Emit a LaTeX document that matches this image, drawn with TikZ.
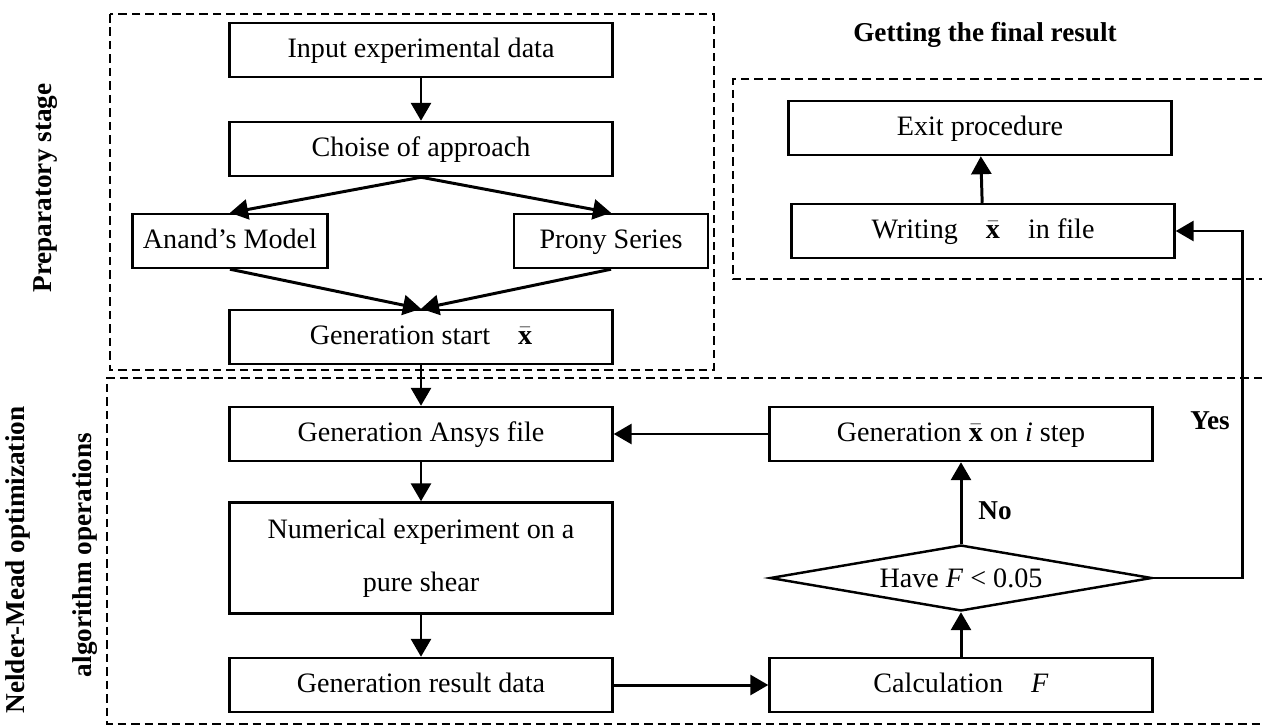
\documentclass[tikz,border=0pt]{standalone}
\usepackage{fontspec}
\setmainfont{Liberation Serif}
\usetikzlibrary{arrows.meta, positioning, shapes.geometric}

\begin{document}
\begin{tikzpicture}[
        x=0.02cm,
        y=-0.02cm,
        font=\fontsize{16}{19}\selectfont,
        procbox/.style={
            draw=black,
            line width=1.4pt,
            minimum width=7.66cm,
            minimum height=1.08cm,
            text height=1.0em,
            text depth=0.1em,
            inner sep=2pt
        },
        decisbox/.style={
            draw=black,
            line width=1.4pt,
            diamond,
            aspect=5.8,
            minimum width=7.64cm,
            minimum height=1.32cm,
            inner sep=0pt
        },
        stageframe/.style={
            draw=black,
            line width=1.1pt,
            dash pattern=on 0.17cm off 0.1cm
        },
        flowarrow/.style={
            draw=black,
            line width=1.7pt,
            -{Triangle[length=0.36cm,width=0.4cm]}
        },
        stagelabel/.style={
            font=\fontsize{15.5}{18}\selectfont\bfseries
        }
    ]

        \useasboundingbox (0,0) rectangle (1262,727);

        % Rahmen der Stufen
        \draw[stageframe]
            (110,14) rectangle (714,370);
        \draw[stageframe]
            (1262,378) --
            (107,378) --
            (107,724) --
            (1262,724);
        \draw[stageframe]
            (1262,79) --
            (733,79) --
            (733,279) --
            (1262,279);

        % Vorbereitung
        \node[procbox] (input) at (421,50)
            {Input experimental data};
        \node[procbox] (approach) at (421,149)
            {Choise of approach};
        \node[procbox, minimum width=3.9cm] (anand) at (230,241)
            {Anand's Model};
        \node[procbox, minimum width=3.88cm] (prony) at (611,241)
            {Prony Series};
        \node[procbox] (start) at (421,337)
            {Generation start\quad $\bar{\mathbf{x}}$};

        % Optimierung
        \node[procbox] (ansys) at (421,434)
            {Generation Ansys file};
        \node[procbox, text height=, text depth=, minimum height=2.22cm,
            align=center] (numexp) at (421,558)
            {Numerical experiment on a\\[0.4cm]pure shear};
        \node[procbox] (result) at (421,685)
            {Generation result data};
        \node[procbox] (calc) at (961,685)
            {Calculation\quad\textit{F}};
        \node[decisbox] (check) at (961,578)
            {Have \textit{F} < 0.05};
        \node[procbox] (istep) at (961,434)
            {Generation $\bar{\mathbf{x}}$ on \textit{i} step};

        % Ergebnis
        \node[procbox] (writing) at (983,231)
            {Writing\quad $\bar{\mathbf{x}}$\quad in file};
        \node[procbox] (exit) at (980,128)
            {Exit procedure};

        % Pfeile
        \draw[flowarrow] (input) -- (approach);
        \draw[flowarrow] (approach.south) -- (anand.north);
        \draw[flowarrow] (approach.south) -- (prony.north);
        \draw[flowarrow] (anand.south) -- (start.north);
        \draw[flowarrow] (prony.south) -- (start.north);
        \draw[flowarrow] (start) -- (ansys);
        \draw[flowarrow] (ansys) -- (numexp);
        \draw[flowarrow] (numexp) -- (result);
        \draw[flowarrow] (result) -- (calc);
        \draw[flowarrow] (calc) -- (check);
        \draw[flowarrow] (check) -- (istep);
        \draw[flowarrow] (istep) -- (ansys);
        \draw[flowarrow] (check.east) -- (1242,578) |- (writing.east);
        \draw[flowarrow] (writing) -- (exit);

        % Beschriftungen
        \node[stagelabel] (nolabel) at (995,511) {No};
        \node[stagelabel] (yeslabel) at (1210,421) {Yes};
        \node[stagelabel] (finaltitle) at (985,35)
            {Getting the final result};
        \node[stagelabel, rotate=90] (prepstage) at (46,188)
            {Preparatory stage};
        \node[stagelabel, rotate=90] (neldermead) at (18,560)
            {Nelder-Mead optimization};
        \node[stagelabel, rotate=90] (algoper) at (85,555)
            {algorithm operations};

    \end{tikzpicture}
\end{document}
